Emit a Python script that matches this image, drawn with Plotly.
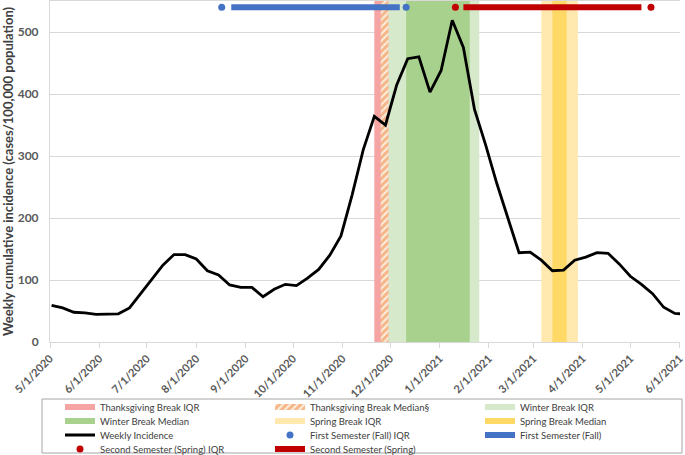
import pandas as pd
import plotly.graph_objects as go

# ---------------- data ----------------
incidence_start = "2020-05-02"
incidence = [59, 55, 48, 47, 44.5, 44.5, 45.5, 55, 78, 102.5, 124, 141, 141, 134,
             115, 108, 92, 88, 88, 73, 85, 93, 91, 103, 117, 140, 171, 237, 310,
             364, 350, 414, 457, 460, 403, 438, 519, 475, 375, 318, 256, 200, 144,
             145, 132, 115, 116, 132, 137, 144, 143, 126, 106, 93, 78, 56, 46, 45]
incidence_dates = pd.date_range(incidence_start, periods=len(incidence), freq="7D")

tick_dates = pd.date_range("2020-05-01", "2021-06-01", freq="MS")
tick_labels = [f"{d.month}/{d.day}/{d.year}" for d in tick_dates]

break_names = ["Thanksgiving Break IQR", "Thanksgiving Break Median§", "Winter Break IQR",
               "Winter Break Median", "Spring Break IQR", "Spring Break Median"]
break_starts = ["2020-11-21", "2020-11-25", "2020-11-30", "2020-12-11", "2021-03-06", "2021-03-13"]
break_ends = ["2020-11-30", "2020-11-30", "2021-01-26", "2021-01-20", "2021-03-29", "2021-03-22"]
break_colors = ["#F5A3A3", "#FCEEDF", "#D6E9CB", "#A9D18E", "#FFE9AE", "#FFD966"]

first_iqr = ["2020-08-17", "2020-12-11"]
first_sem = ["2020-08-23", "2020-12-07"]
second_iqr = ["2021-01-11", "2021-05-14"]
second_sem = ["2021-01-16", "2021-05-08"]
semester_level = 540

y_max = 550
x_range = ["2020-05-01", "2021-06-01 06:00"]

# ---------------- layout helpers ----------------
W, H = 685, 455
ML, MR, MT, MB = 50, 5, 1, 113
PW, PH = W - ML - MR, H - MT - MB


def px_x(px):
    return (px - ML) / PW


def px_y(py):
    return (H - MB - py) / PH


FONT = "Lato, 'Open Sans', sans-serif"
GREY = "#595959"

fig = go.Figure()

legend_of_break = ["legend", "legend", "legend", "legend2", "legend2", "legend2"]
for i, name in enumerate(break_names):
    x0, x1 = break_starts[i], break_ends[i]
    kw = dict(fillcolor=break_colors[i])
    if "Median§" in name:
        kw["fillpattern"] = dict(shape="/", fgcolor="#ED7D31", bgcolor=break_colors[i],
                                 size=5, solidity=0.6)
    fig.add_trace(go.Scatter(
        x=[x0, x0, x1, x1, x0], y=[0, y_max, y_max, 0, 0],
        mode="none", fill="toself", name=name, legend=legend_of_break[i],
        hoverinfo="skip", **kw))

fig.add_trace(go.Scatter(x=incidence_dates, y=incidence, mode="lines", name="Weekly Incidence",
                         line=dict(color="black", width=2.8), legend="legend3"))

fig.add_trace(go.Scatter(x=first_iqr, y=[semester_level] * 2, mode="markers",
                         name="First Semester (Fall) IQR",
                         marker=dict(color="#4472C4", size=7), legend="legend3"))
fig.add_trace(go.Scatter(x=first_sem, y=[semester_level] * 2, mode="lines",
                         name="First Semester (Fall)",
                         line=dict(color="#4472C4", width=6), legend="legend3"))
fig.add_trace(go.Scatter(x=second_iqr, y=[semester_level] * 2, mode="markers",
                         name="Second Semester (Spring) IQR",
                         marker=dict(color="#C00000", size=7), legend="legend4"))
fig.add_trace(go.Scatter(x=second_sem, y=[semester_level] * 2, mode="lines",
                         name="Second Semester (Spring)",
                         line=dict(color="#C00000", width=6), legend="legend4"))

legend_rows = [407, 421, 435, 449]
legends = {}
for j, key in enumerate(["legend", "legend2", "legend3", "legend4"]):
    legends[key] = dict(
        orientation="h", xref="paper", yref="paper",
        x=px_x(60), xanchor="left", y=px_y(legend_rows[j]), yanchor="middle",
        entrywidth=165, entrywidthmode="pixels", itemwidth=30,
        bgcolor="rgba(0,0,0,0)", borderwidth=0,
        font=dict(family=FONT, size=9.5, color="#404040"))

fig.update_layout(
    width=W, height=H,
    margin=dict(l=ML, r=MR, t=MT, b=MB, autoexpand=False),
    paper_bgcolor="white", plot_bgcolor="white",
    showlegend=True,
    **legends,
    xaxis=dict(type="date", range=x_range, tickvals=tick_dates, ticktext=tick_labels,
               tickangle=-45, showgrid=False, showline=True, linecolor="#D9D9D9",
               mirror=True, ticks="outside", ticklen=5, tickcolor="#D9D9D9",
               ticklabeloverflow="allow",
               tickfont=dict(family=FONT, size=11, color=GREY, weight="bold"),
               zeroline=False),
    yaxis=dict(range=[0, y_max], dtick=100, tick0=0, showgrid=True, gridcolor="#D9D9D9",
               showline=True, linecolor="#D9D9D9", zeroline=False, ticks="",
               ticklabelstandoff=8,
               tickfont=dict(family=FONT, size=12, color=GREY, weight="bold"),
               title=dict(text="Weekly cumulative incidence (cases/100,000 population)",
                          font=dict(family=FONT, size=13, color="#404040", weight="bold"),
                          standoff=6)),
    shapes=[dict(type="rect", xref="paper", yref="paper",
                 x0=px_x(42), x1=px_x(682), y0=px_y(399), y1=px_y(453),
                 line=dict(color="#A6A6A6", width=1), fillcolor="rgba(0,0,0,0)",
                 layer="above")],
)

fig.write_html("out.html", config={"displayModeBar": False},
               post_script="document.body.style.margin='0';")
